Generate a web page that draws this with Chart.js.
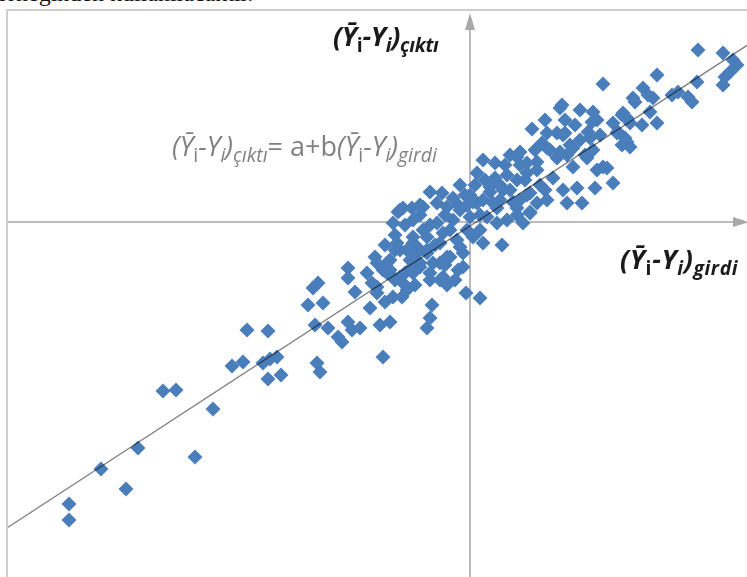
<!DOCTYPE html>
<html>
<head>
<meta charset="utf-8">
<script src="https://cdn.jsdelivr.net/npm/chart.js@4.4.1/dist/chart.umd.min.js"></script>
<style>
    html, body { margin: 0; padding: 0; background: #fff; overflow: hidden; }
    #wrap { position: relative; width: 747px; height: 577px; }
    #chart { position: absolute; left: 0; top: 0; }
    .lbl { position: absolute; white-space: nowrap; line-height: 1; font-family: 'Open Sans', sans-serif; font-size: 27px; }
    .lbl sub { font-size: 0.72em; vertical-align: -0.3em; line-height: 0; }
    .bold { font-weight: bold; font-style: italic; color: #1b1b1b; font-size: 27px; letter-spacing: -0.3px; }
    .eq { color: #808080; }
    .it { font-style: italic; }
    .up { font-style: normal; }
    #pagetext { position: absolute; left: -4px; top: -19px; font-family: 'Liberation Serif', serif; font-size: 24px; line-height: 1; color: #111; white-space: nowrap; }
</style>
</head>
<body>
<div id="wrap">
    <div id="pagetext">örneğinden kullanılacaktır.</div>
    <canvas id="chart" width="747" height="577"></canvas>
    <div class="lbl bold" style="left:333px; top:22px;">(Ȳ<sub class="up">i</sub>-Y<sub>i</sub>)<sub>çıktı</sub></div>
    <div class="lbl eq" style="left:172px; top:132px;"><span class="it">(Ȳ</span><sub>i</sub><span class="it">-Y</span><sub class="it">i</sub><span class="it">)</span><sub class="it">çıktı</sub>= a+b<span class="it">(Ȳ</span><sub>i</sub><span class="it">-Y</span><sub class="it">i</sub><span class="it">)</span><sub class="it">girdi</sub></div>
    <div class="lbl bold" style="left:620px; top:245px; letter-spacing: 0.6px;">(Ȳ<sub class="up">i</sub>-Y<sub>i</sub>)<sub>girdi</sub></div>
</div>
<script>
// input deviations (girdi) and output deviations (çıktı)
const girdi = [
    -401, -401, -369, -344, -332, -307, -294, -275, -257, -238, -227, -207, -200, -193, -202, -189, -223, -202,
    -153, -150, -155, -142, -132, -128, -122, -118, -110, -162, -147, -157, -152, -122, -122, -115, -100, -90, -80, -87,
    -103, -95, -93, -98, -93, -85, -77, -68, -63, -73, -63, -53, -83, -75, -65, -58, -53, -83,
    32, 10, -4, -38, -40, -43, -23, -12, -30,
    -70, -57, -43, -27, -13, 3, 13, -50, -40, -30, -57, -70, -80, -20, -7, -7, -43,
    -67, -77, -57, -47, -33, -23, -3, 7, 23, 47, 60, 67,
    -57, -47, -33, -17, 0, 17, 37, 53, -57, -43, -30, -3, 10, 27,
    -50, -37, -23, -10, -80, -87, -77, -67, -93, -40, -27, -72,
    77, 87, 13, 7, 25, 40, 47, -40, -28, -50, -58, -70, -17, -5, -12, 3, 20, 30, 37, 57, 67, 77, 87, 97,
    10, 27, 43, 57, 70, 83, 47, 60,
    133, 90, 62, 95, 123, 127, 118, 153, 163, 160, 147, 155, 160,
    50, 72, 80, 90, 100, 110, 115, 123, 127, 137, 143, 125, 112, 107, 93, 77, 97,
    47, 33, 20, 13, 57, 67, 60,
    228, 253, 263, 267, 260, 255, 253, 227, 218, 222, 202, 208, 187, 173, 178, 183, 165, 180, 187, 172,
    157, 152, 143, 148, 157, 152, 122, 130, 120, 92, 93, 103, 117, 133, 103,
    -75, -65, -50, -40, -25, -10, -20, -35, -50, -25, -15, -55, -75, -85, -60,
    0, 15, 30, 40, 50, 55, 75, 65, 50, 35, 25, 5, -10, 95, 105, 75, 110
];
const cikti = [
    -282, -298, -247, -267, -226, -169, -168, -235, -187, -144, -140, -141, -137, -135, -157, -153, -108, -109,
    -141, -150, -103, -106, -115, -120, -100, -108, -106, -83, -81, -66, -61, -46, -56, -70, -86, -103, -100, -135,
    -51, -35, -41, -61, -71, -80, -75, -75, -68, -21, -28, -25, -51, -58, -51, -45, -41, -41,
    -23, -76, -71, -83, -96, -106, -63, -48, -41,
    -28, -21, -15, -11, -18, -15, -21, -41, -51, -58, -51, -55, -48, -35, -31, -45, -31,
    14, -1, 2, 15, 19, 15, 17, 19, 19, 14, 9, 19,
    -15, -8, -1, 2, 5, 5, 2, -1, -35, -28, -21, -8, -8, -1,
    -45, -41, -35, -25, -38, -48, -55, -61, -65, -58, -55, 10,
    89, 89, 62, 49, 59, 67, 65, 30, 29, 17, 14, 12, 24, 27, 17, 20, 30, 37, 47, 49, 60, 74, 64, 67,
    7, 14, 20, 27, 37, 44, 7, 10,
    138, 114, 93, 89, 110, 102, 90, 109, 124, 99, 89, 84, 75,
    70, 79, 72, 70, 77, 82, 67, 72, 52, 54, 39, 34, 19, 34, 32, 22, 19,
    42, 32, 35, 22, 59, 52, 29,
    172, 169, 162, 157, 150, 145, 137, 140, 125, 120, 127, 130, 147, 134, 127, 124, 120, 110, 99, 97,
    104, 107, 99, 90, 80, 77, 100, 87, 84, 117, 87, 74, 64, 55, 55,
    -13, -3, 7, -3, 7, 12, -8, -23, -28, -43, -58, -63, -28, -23, -38,
    27, 42, 22, 32, 22, 42, 32, 72, 57, 57, 44, 37, 37, 102, 97, 102, 112
];

// fitted line (ȳ-y)çıktı = a + b (ȳ-y)girdi
const a = -4;
const b = 0.652;

const xMin = -462, xMax = 277;
const yMin = -355, yMax = 212;

const points = girdi.map((x, i) => ({ x: x, y: cikti[i] }));
const trend = [xMin, xMax].map(x => ({ x: x, y: a + b * x }));

// frame and the two cross axes through zero, with arrow heads
const axesPlugin = {
    id: 'axes',
    beforeDatasetsDraw(chart) {
        const { ctx, chartArea, scales } = chart;
        const x0 = scales.x.getPixelForValue(0);
        const y0 = scales.y.getPixelForValue(0);
        ctx.save();
        ctx.strokeStyle = '#cfcfcf';
        ctx.lineWidth = 2;
        ctx.beginPath();
        ctx.moveTo(chartArea.left - 1, chartArea.bottom + 5);
        ctx.lineTo(chartArea.left - 1, chartArea.top);
        ctx.lineTo(chartArea.right + 5, chartArea.top);
        ctx.stroke();

        ctx.strokeStyle = '#a8a8a8';
        ctx.fillStyle = '#a8a8a8';
        ctx.lineWidth = 1.6;
        ctx.beginPath();
        ctx.moveTo(x0, chartArea.bottom);
        ctx.lineTo(x0, chartArea.top + 14);
        ctx.moveTo(chartArea.left, y0);
        ctx.lineTo(chartArea.right - 10, y0);
        ctx.stroke();
        // up arrow
        ctx.beginPath();
        ctx.moveTo(x0, chartArea.top + 3);
        ctx.lineTo(x0 - 5, chartArea.top + 20);
        ctx.lineTo(x0 + 5, chartArea.top + 20);
        ctx.closePath();
        ctx.fill();
        // right arrow
        ctx.beginPath();
        ctx.moveTo(chartArea.right + 2, y0);
        ctx.lineTo(chartArea.right - 14, y0 - 5);
        ctx.lineTo(chartArea.right - 14, y0 + 5);
        ctx.closePath();
        ctx.fill();
        ctx.restore();
    }
};

new Chart(document.getElementById('chart').getContext('2d'), {
    data: {
        datasets: [
            {
                type: 'line',
                data: trend,
                borderColor: 'rgba(0,0,0,0.5)',
                borderWidth: 1.3,
                pointRadius: 0,
                fill: false
            },
            {
                type: 'scatter',
                data: points,
                pointStyle: 'rectRot',
                pointRadius: 7.5,
                backgroundColor: '#4a7ebb',
                borderColor: '#4a7ebb',
                borderWidth: 0
            }
        ]
    },
    options: {
        responsive: false,
        animation: false,
        layout: { autoPadding: false, padding: { left: 8, top: 10, right: 0, bottom: 0 } },
        plugins: {
            legend: { display: false },
            tooltip: { enabled: false }
        },
        scales: {
            x: { type: 'linear', min: xMin, max: xMax, display: false },
            y: { type: 'linear', min: yMin, max: yMax, display: false }
        }
    },
    plugins: [axesPlugin]
});
</script>
</body>
</html>
